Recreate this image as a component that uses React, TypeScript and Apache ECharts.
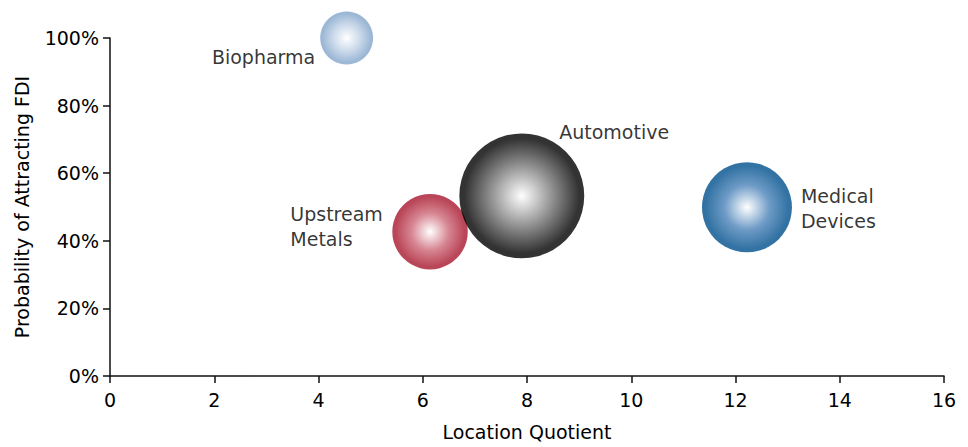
import React, { useEffect, useRef } from "react";
import * as echarts from "echarts";

const industries = ["Biopharma", "Upstream\nMetals", "Automotive", "Medical\nDevices"];
const locationQuotient = [4.54, 6.14, 7.9, 12.22];
const probabilityFDI = [100, 42.7, 53.3, 49.9];
const bubbleSize = [28, 57, 156, 81];
const xTicks = { min: 0, max: 16, interval: 2 };
const yTicks = { min: 0, max: 100, interval: 20 };

const edgeColors = ["#84a6cb", "#a8182f", "#000000", "#00508d"];
const midColors = ["#bfd1e6", "#cc6676", "#737373", "#4a82b8"];
const labelPos: any[] = [
  { position: "left", offset: [0, 19], align: "right" },
  { position: "left", offset: [-97, -5], align: "left" },
  { position: "right", offset: [-30, -64], align: "left" },
  { position: "right", offset: [4, 1], align: "left" },
];

const FONT = "DejaVu Sans";
const TEXT = "#000000";

export default function App() {
  const ref = useRef<HTMLDivElement>(null);
  useEffect(() => {
    if (!ref.current) return;
    const chart = echarts.init(ref.current, null, { renderer: "svg" });
    const data = industries.map((name, i) => ({
      name,
      value: [locationQuotient[i], probabilityFDI[i], bubbleSize[i]],
      itemStyle: {
        color: {
          type: "radial",
          x: 0.5,
          y: 0.5,
          r: 0.5,
          colorStops: [
            { offset: 0, color: "#ffffff" },
            { offset: 0.5, color: midColors[i] },
            { offset: 0.92, color: edgeColors[i] },
            { offset: 1, color: edgeColors[i] },
          ],
        },
      },
      label: {
        show: true,
        formatter: name,
        position: labelPos[i].position,
        offset: labelPos[i].offset,
        align: labelPos[i].align,
        verticalAlign: "middle",
        color: TEXT,
        fontFamily: FONT,
        fontSize: 19,
        lineHeight: 25,
      },
    }));
    chart.setOption({
      animation: false,
      backgroundColor: "#ffffff",
      grid: { left: 110, right: 24, top: 38, bottom: 71, outerBoundsMode: "none", containLabel: false },
      xAxis: {
        type: "value",
        min: xTicks.min,
        max: xTicks.max,
        interval: xTicks.interval,
        name: "Location Quotient",
        nameLocation: "middle",
        nameGap: 46,
        nameTextStyle: { color: TEXT, fontFamily: FONT, fontSize: 19 },
        axisLine: { show: true, lineStyle: { color: "#111", width: 1.5 } },
        axisTick: { show: true, length: 7, lineStyle: { color: "#111", width: 1.5 } },
        axisLabel: { color: TEXT, fontFamily: FONT, fontSize: 19, margin: 14 },
        splitLine: { show: false },
      },
      yAxis: {
        type: "value",
        min: yTicks.min,
        max: yTicks.max,
        interval: yTicks.interval,
        name: "Probability of Attracting FDI",
        nameLocation: "middle",
        nameGap: 79,
        nameTextStyle: { color: TEXT, fontFamily: FONT, fontSize: 19 },
        axisLine: { show: true, lineStyle: { color: "#111", width: 1.5 } },
        axisTick: { show: true, length: 7, lineStyle: { color: "#111", width: 1.5 } },
        axisLabel: { color: TEXT, fontFamily: FONT, fontSize: 19, margin: 11, formatter: "{value}%" },
        splitLine: { show: false },
      },
      series: [
        {
          type: "scatter",
          clip: false,
          symbol: "circle",
          symbolSize: (v: number[]) => Math.sqrt(v[2]) * 10,
          data,
        },
      ],
    });
    return () => chart.dispose();
  }, []);
  return (
    <div
      ref={ref}
      style={{ position: "absolute", left: 0, top: 0, width: 968, height: 447 }}
    />
  );
}
